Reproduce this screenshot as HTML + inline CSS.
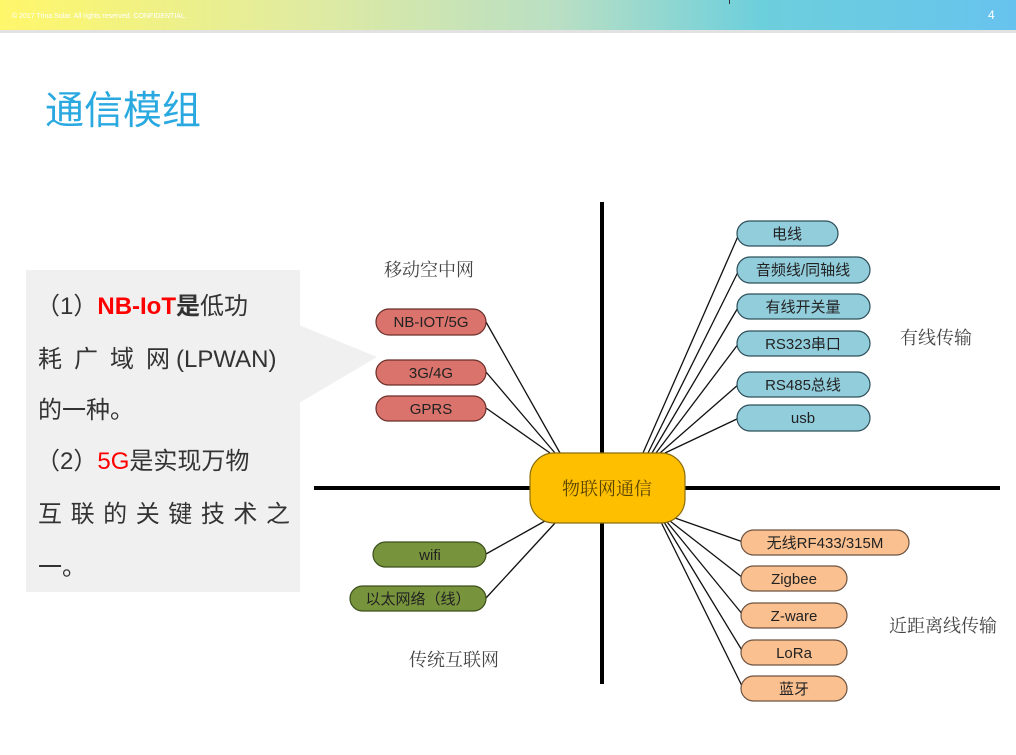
<!DOCTYPE html>
<html><head><meta charset="utf-8"><style>
html,body{margin:0;padding:0;background:#fff;width:1016px;height:755px;overflow:hidden}
svg{display:block}
.t{font-family:"Liberation Sans","Noto Sans CJK SC",sans-serif;}
.s{font-family:"Liberation Serif","Noto Serif CJK SC",serif;}
</style></head><body>
<svg width="1016" height="755" viewBox="0 0 1016 755" xmlns="http://www.w3.org/2000/svg">
<defs>
<linearGradient id="hg" x1="0" x2="1" y1="0" y2="0">
<stop offset="0" stop-color="#fff76a"/><stop offset="0.3" stop-color="#e0eba0"/>
<stop offset="0.55" stop-color="#b9dfc4"/><stop offset="0.75" stop-color="#6ccfdc"/>
<stop offset="1" stop-color="#67c3ee"/></linearGradient>
</defs>
<rect x="0" y="0" width="1016" height="30" fill="url(#hg)"/>
<rect x="0" y="30" width="1016" height="3" fill="#e2e2e2"/>
<text x="12" y="18" font-size="7" fill="#fff" class="t">© 2017 Trina Solar. All rights reserved. CONFIDENTIAL.</text>
<text x="988" y="19" font-size="12" fill="#fff" class="t">4</text>
<rect x="729" y="0" width="1" height="4" fill="#333"/>
<text x="45" y="124" font-size="39" fill="#29a9e0" class="t">通信模组</text>

<!-- callout -->
<rect x="26" y="270" width="274" height="322" fill="#f0f0f0"/>
<polygon points="299,325 377,357 299,403" fill="#f0f0f0"/>
<g class="t" font-size="24" fill="#333">
<text x="36" y="314"><tspan>（1）</tspan><tspan fill="#ff0000" font-weight="bold">NB-IoT</tspan><tspan font-weight="bold">是</tspan>低功</text>
<text y="367"><tspan x="38">耗</tspan><tspan x="74">广</tspan><tspan x="110">域</tspan><tspan x="146">网</tspan><tspan x="176">(LPWAN)</tspan></text>
<text x="38" y="418">的一种。</text>
<text x="36" y="469">（2）<tspan fill="#ff0000">5G</tspan>是实现万物</text>
<text x="38" y="522" textLength="252" lengthAdjust="spacing">互联的关键技术之</text>
<text x="38" y="575">一。</text>
</g>

<!-- axes -->
<rect x="600" y="202" width="4" height="482" fill="#000"/>
<rect x="314" y="486" width="686" height="4" fill="#000"/>

<!-- connectors -->
<g stroke="#111" stroke-width="1.3" fill="none">
<line x1="486" y1="322" x2="560" y2="453"/>
<line x1="486" y1="372" x2="555" y2="453"/>
<line x1="486" y1="408" x2="550" y2="453"/>
<line x1="739" y1="234" x2="643" y2="453"/>
<line x1="739" y1="270" x2="648" y2="453"/>
<line x1="739" y1="306" x2="652" y2="453"/>
<line x1="739" y1="343" x2="656" y2="453"/>
<line x1="739" y1="384" x2="660" y2="453"/>
<line x1="739" y1="418" x2="665" y2="453"/>
<line x1="486" y1="554" x2="545" y2="521"/>
<line x1="486" y1="598" x2="556" y2="522"/>
<line x1="743" y1="542" x2="675" y2="518"/>
<line x1="743" y1="578" x2="670" y2="521"/>
<line x1="743" y1="615" x2="667" y2="522"/>
<line x1="743" y1="652" x2="664" y2="522"/>
<line x1="743" y1="688" x2="661" y2="522"/>
</g>

<!-- center -->
<rect x="530" y="453" width="155" height="70" rx="24" fill="#fdbf00" stroke="#8a6d10" stroke-width="1.2"/>
<text x="607" y="495" font-size="18" fill="#5a4400" text-anchor="middle" class="s">物联网通信</text>

<!-- red -->
<g stroke="#6b2f2a" stroke-width="1.2" fill="#d9736b">
<rect x="376" y="309" width="110" height="26" rx="13"/>
<rect x="376" y="360" width="110" height="25" rx="12.5"/>
<rect x="376" y="396" width="110" height="25" rx="12.5"/>
</g>
<g class="t" font-size="15" fill="#222" text-anchor="middle">
<text x="431" y="327">NB-IOT/5G</text><text x="431" y="378">3G/4G</text><text x="431" y="414">GPRS</text>
</g>

<!-- blue -->
<g stroke="#2d4f5a" stroke-width="1.2" fill="#92cddc">
<rect x="737" y="221" width="101" height="25" rx="12.5"/>
<rect x="737" y="257" width="133" height="26" rx="13"/>
<rect x="737" y="294" width="133" height="25" rx="12.5"/>
<rect x="737" y="331" width="133" height="25" rx="12.5"/>
<rect x="737" y="372" width="133" height="25" rx="12.5"/>
<rect x="737" y="405" width="133" height="26" rx="13"/>
</g>
<g class="t" font-size="15" fill="#222" text-anchor="middle">
<text x="787" y="239">电线</text><text x="803" y="275">音频线/同轴线</text><text x="803" y="312">有线开关量</text>
<text x="803" y="349">RS323串口</text><text x="803" y="390">RS485总线</text><text x="803" y="423">usb</text>
</g>

<!-- green -->
<g stroke="#3c4f1c" stroke-width="1.2" fill="#77933c">
<rect x="373" y="542" width="113" height="25" rx="12.5"/>
<rect x="350" y="586" width="136" height="25" rx="12.5"/>
</g>
<g class="t" font-size="15" fill="#222" text-anchor="middle">
<text x="430" y="560">wifi</text><text x="418" y="604">以太网络（线）</text>
</g>

<!-- peach -->
<g stroke="#6d5340" stroke-width="1.2" fill="#fac090">
<rect x="741" y="530" width="168" height="25" rx="12.5"/>
<rect x="741" y="566" width="106" height="25" rx="12.5"/>
<rect x="741" y="603" width="106" height="25" rx="12.5"/>
<rect x="741" y="640" width="106" height="25" rx="12.5"/>
<rect x="741" y="676" width="106" height="25" rx="12.5"/>
</g>
<g class="t" font-size="15" fill="#222" text-anchor="middle">
<text x="825" y="548">无线RF433/315M</text><text x="794" y="584">Zigbee</text><text x="794" y="621">Z-ware</text>
<text x="794" y="658">LoRa</text><text x="794" y="694">蓝牙</text>
</g>

<!-- quadrant labels -->
<g class="s" font-size="18" fill="#444">
<text x="384" y="276">移动空中网</text>
<text x="900" y="344">有线传输</text>
<text x="889" y="632">近距离线传输</text>
<text x="409" y="666">传统互联网</text>
</g>
</svg>
</body></html>
